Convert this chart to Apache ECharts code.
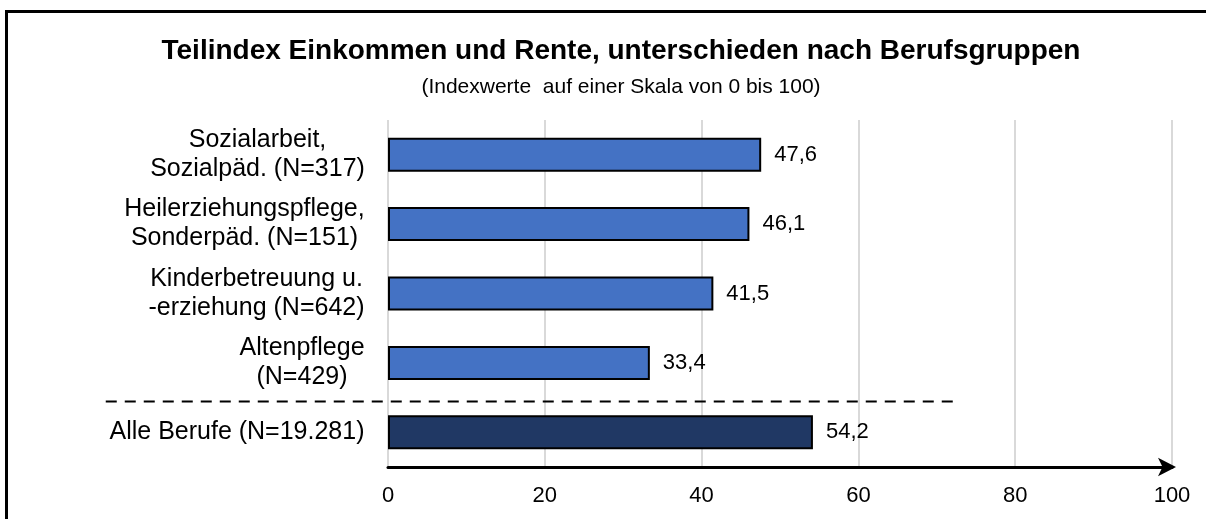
<!DOCTYPE html>
<html>
<head>
<meta charset="utf-8">
<script src="https://cdn.jsdelivr.net/npm/echarts@6/dist/echarts.min.js"></script>
<style>
  html, body { margin: 0; padding: 0; background: #fff; }
  #frame {
    position: absolute; left: 5px; top: 10px;
    width: 1400px; height: 700px;
    border-left: 3px solid #000; border-top: 3px solid #000;
  }
  #chart { position: absolute; left: 0; top: 0; width: 1206px; height: 519px; }
</style>
</head>
<body>
<div id="frame"></div>
<div id="chart"></div>
<script>
const categories = [
  'Sozialarbeit,\nSozialpäd. (N=317)',
  'Heilerziehungspflege,\nSonderpäd. (N=151)',
  'Kinderbetreuung u.\n-erziehung (N=642)',
  'Altenpflege\n(N=429)',
  'Alle Berufe (N=19.281)'
]
const values = [47.6, 46.1, 41.5, 33.4, 54.2]
const barColors = ['#4472C4', '#4472C4', '#4472C4', '#4472C4', '#203864']
const xTicks = [0, 20, 40, 60, 80, 100]

const font = 'Arial, "Liberation Sans", sans-serif'
const labelSize = 25
const gridLeft = 388

// Breite je Beschriftung messen: Block rechtsbündig, Zeilen darin zentriert
const ctx = document.createElement('canvas').getContext('2d')
ctx.font = labelSize + 'px ' + font
const widths = categories.map(c => Math.ceil(Math.max(...c.split('\n').map(s => ctx.measureText(s).width))))
const rich = {}
widths.forEach((w, i) => {
  rich['c' + i] = { width: w, align: 'center', fontFamily: font, fontSize: labelSize, lineHeight: 29, color: '#000' }
})

let myChart = echarts.init(document.getElementById('chart'))
myChart.setOption({
  animation: false,
  title: {
    text: 'Teilindex Einkommen und Rente, unterschieden nach Berufsgruppen',
    subtext: '(Indexwerte  auf einer Skala von 0 bis 100)',
    left: 616,
    textAlign: 'center',
    top: 32,
    itemGap: 12,
    textStyle: { fontFamily: font, fontSize: 28, fontWeight: 'bold', color: '#000' },
    subtextStyle: { fontFamily: font, fontSize: 21, color: '#000' }
  },
  grid: {
    left: gridLeft,
    right: 1206 - 1172,
    top: 120,
    bottom: 519 - 467,
    outerBoundsMode: 'none'
  },
  xAxis: {
    type: 'value',
    min: xTicks[0],
    max: xTicks[xTicks.length - 1],
    interval: 20,
    axisLine: {
      show: true,
      symbol: ['none', 'arrow'],
      symbolSize: [14, 18],
      symbolOffset: [0, 4],
      lineStyle: { color: '#000', width: 3 }
    },
    axisTick: { show: false },
    axisLabel: { fontFamily: font, fontSize: 22, color: '#000', margin: 18 },
    splitLine: { lineStyle: { color: '#D9D9D9', width: 2 } }
  },
  yAxis: {
    type: 'category',
    inverse: true,
    data: categories,
    axisLine: { show: false },
    axisTick: { show: false },
    axisLabel: {
      align: 'right',
      margin: gridLeft - 365,
      rich: rich,
      formatter: (val, idx) => val.split('\n').map(s => '{c' + idx + '|' + s + '}').join('\n')
    }
  },
  series: [
    {
      type: 'bar',
      barWidth: 34,
      data: values.map((v, i) => ({
        value: v,
        itemStyle: { color: barColors[i] }
      })),
      itemStyle: { borderColor: '#000', borderWidth: 2 },
      label: {
        show: true,
        position: 'right',
        distance: 13,
        fontFamily: font,
        fontSize: 22,
        color: '#000',
        formatter: p => String(p.value).replace('.', ',')
      }
    }
  ]
})

// gestrichelte Trennlinie zwischen Berufsgruppen und "Alle Berufe"
const yA = myChart.convertToPixel({ yAxisIndex: 0 }, 3)
const yB = myChart.convertToPixel({ yAxisIndex: 0 }, 4)
const xL = myChart.convertToPixel({ xAxisIndex: 0 }, -36)
const xR = myChart.convertToPixel({ xAxisIndex: 0 }, 73)
const yMid = (yA + yB) / 2 + 4
myChart.setOption({
  graphic: [{
    type: 'line',
    shape: { x1: xL, y1: yMid, x2: xR, y2: yMid },
    style: { stroke: '#000', lineWidth: 2, lineDash: [11, 8] },
    z: 10
  }]
})
</script>
</body>
</html>
